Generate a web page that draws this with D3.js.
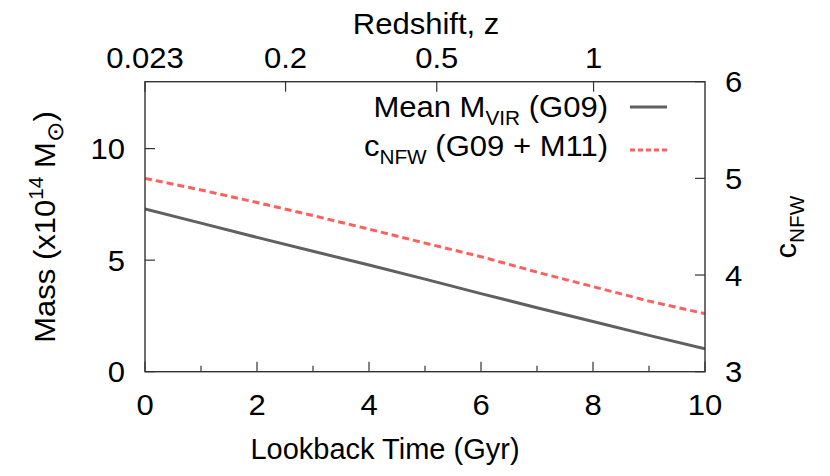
<!DOCTYPE html>
<html>
<head>
<meta charset="utf-8">
<script src="https://cdn.jsdelivr.net/npm/d3@7"></script>
<style>
  html, body { margin: 0; padding: 0; background: #fff; }
  svg { display: block; }
  text { font-family: "Liberation Sans", Arial, Helvetica, sans-serif; fill: #000; }
</style>
</head>
<body>
<svg id="chart" width="830" height="476"></svg>
<script>
// ---------------- data ----------------
const lookbackGyr = [0, 1, 2, 3, 4, 5, 6, 7, 8, 9, 10];
const massMean    = [7.30, 6.66, 6.02, 5.40, 4.78, 4.15, 3.50, 2.87, 2.25, 1.63, 1.03];
const cNFW        = [5.00, 4.88, 4.75, 4.615, 4.475, 4.33, 4.19, 4.03, 3.88, 3.73, 3.60];
const xTicks      = [0, 2, 4, 6, 8, 10];
const xMinorTicks = [1, 3, 5, 7, 9];
const massTicks   = [0, 5, 10];
const cTicks      = [3, 4, 5, 6];
const zTickLabels = ["0.023", "0.2", "0.5", "1"];
const zTickLookback = [0, 2.51, 5.21, 8.01];

// ---------------- layout ----------------
const L = 145, R = 705, T = 81.7, B = 371.7;
const FS = 29, SX = 1.07;

const svg = d3.select("#chart");
const x = d3.scaleLinear().domain([0, 10]).range([L, R]);
const yM = d3.scaleLinear().domain([0, 13]).range([B, T]);
const yC = d3.scaleLinear().domain([3, 6]).range([B, T]);

// rich text helper: segments [text, mode] mode: n | sub | sup | sym
function richText(px, py, rot, anchor, segs, sx) {
  const g = svg.append("g").attr("transform", `translate(${px},${py}) rotate(${rot})`);
  const t = g.append("text")
    .attr("transform", `scale(${sx || SX},1)`)
    .attr("text-anchor", anchor)
    .style("font-size", FS + "px");
  let cur = 0;
  segs.forEach(([s, mode]) => {
    let off = 0, size = FS;
    if (mode === "sub") { off = 8; size = FS * 0.67; }
    if (mode === "sym") { off = 8; size = FS * 0.8; }
    if (mode === "sup") { off = -12; size = FS * 0.67; }
    t.append("tspan").attr("dy", off - cur).style("font-size", size + "px").text(s);
    cur = off;
  });
  return t;
}

// ---------------- lines ----------------
svg.append("clipPath").attr("id", "clip").append("rect")
  .attr("x", L).attr("y", T).attr("width", R - L).attr("height", B - T);

const massLine = d3.line().x((d, i) => x(lookbackGyr[i])).y(d => yM(d));
const cLine = d3.line().x((d, i) => x(lookbackGyr[i])).y(d => yC(d));

svg.append("path").datum(massMean).attr("d", massLine)
  .attr("clip-path", "url(#clip)")
  .attr("fill", "none").attr("stroke", "#606060").attr("stroke-width", 3);
svg.append("path").datum(cNFW).attr("d", cLine)
  .attr("clip-path", "url(#clip)")
  .attr("fill", "none").attr("stroke", "#ff5f5f").attr("stroke-width", 3)
  .attr("stroke-dasharray", "7,4");

// ---------------- frame & ticks ----------------
const axisColor = "#333";
svg.append("rect").attr("x", L).attr("y", T).attr("width", R - L).attr("height", B - T)
  .attr("fill", "none").attr("stroke", axisColor).attr("stroke-width", 1.4);

const tickG = svg.append("g").attr("stroke", axisColor).attr("stroke-width", 1.2);
xTicks.forEach(v => tickG.append("line").attr("x1", x(v)).attr("x2", x(v)).attr("y1", B).attr("y2", B - 10));
xMinorTicks.forEach(v => tickG.append("line").attr("x1", x(v)).attr("x2", x(v)).attr("y1", B).attr("y2", B - 6));
massTicks.forEach(v => tickG.append("line").attr("x1", L).attr("x2", L + 10).attr("y1", yM(v)).attr("y2", yM(v)));
cTicks.forEach(v => tickG.append("line").attr("x1", R).attr("x2", R - 10).attr("y1", yC(v)).attr("y2", yC(v)));
zTickLookback.forEach(v => tickG.append("line").attr("x1", x(v)).attr("x2", x(v)).attr("y1", T).attr("y2", T + 10));

// ---------------- tick labels ----------------
xTicks.forEach(v => richText(x(v), 415, 0, "middle", [[String(v), "n"]]));
massTicks.forEach(v => richText(125, yM(v) + 10.5, 0, "end", [[String(v), "n"]]));
cTicks.forEach(v => richText(725, yC(v) + 10.5, 0, "start", [[String(v), "n"]]));
zTickLabels.forEach((s, i) => richText(x(zTickLookback[i]), 68, 0, "middle", [[s, "n"]]));

// ---------------- axis titles ----------------
richText(426, 34, 0, "middle", [["Redshift, z", "n"]]);
richText(385, 459, 0, "middle", [["Lookback Time (Gyr)", "n"]], 1.0);
richText(55, 227, -90, "middle", [["Mass (x10", "n"], ["14", "sup"], [" M", "n"], ["\u2299", "sym"], [")", "n"]]);
richText(796, 227, -90, "middle", [["c", "n"], ["NFW", "sub"]]);

// ---------------- legend ----------------
richText(608, 117, 0, "end", [["Mean M", "n"], ["VIR", "sub"], [" (G09)", "n"]]);
richText(608, 156, 0, "end", [["c", "n"], ["NFW", "sub"], [" (G09 + M11)", "n"]]);
svg.append("line").attr("x1", 630).attr("x2", 667).attr("y1", 107).attr("y2", 107)
  .attr("stroke", "#606060").attr("stroke-width", 3);
svg.append("line").attr("x1", 630).attr("x2", 667).attr("y1", 150).attr("y2", 150)
  .attr("stroke", "#ff5f5f").attr("stroke-width", 3).attr("stroke-dasharray", "5,3");
</script>
</body>
</html>
